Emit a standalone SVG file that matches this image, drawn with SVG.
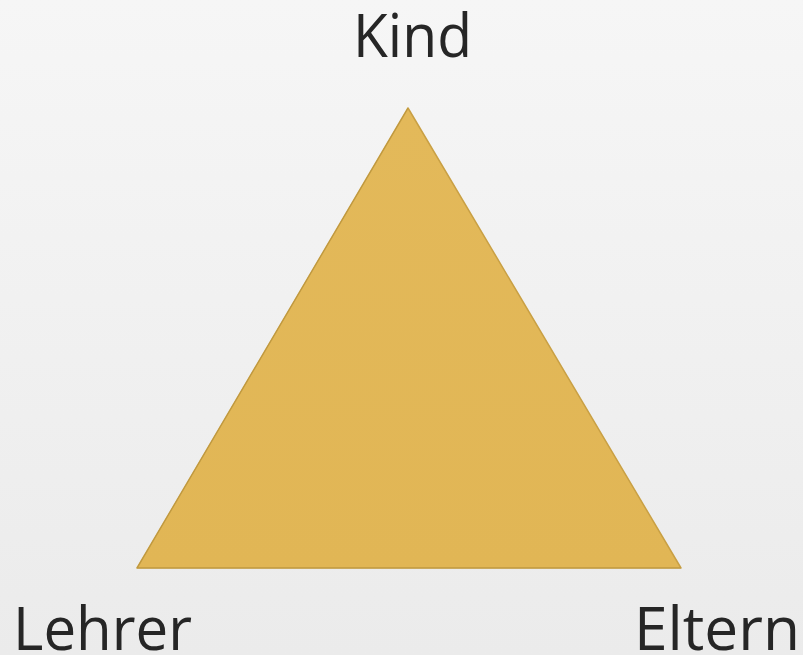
<svg xmlns="http://www.w3.org/2000/svg" width="803" height="655" viewBox="0 0 803 655">
<defs>
<linearGradient id="bg" x1="0" y1="0" x2="0" y2="1">
<stop offset="0" stop-color="#f6f6f6"/>
<stop offset="1" stop-color="#ebebeb"/>
</linearGradient>
<linearGradient id="gold" x1="0" y1="0" x2="0" y2="1">
<stop offset="0" stop-color="#e3b95a"/>
<stop offset="1" stop-color="#e1b655"/>
</linearGradient>
<style>
.lbl{font-family:"Open Sans","Noto Sans","Liberation Sans",sans-serif;font-size:61px;fill:#262626;}
</style>
</defs>
<rect width="803" height="655" fill="url(#bg)"/>
<g id="triangle">
<polygon points="408,108 137,568 681,568" fill="url(#gold)" stroke="#c9a044" stroke-width="1.5" stroke-linejoin="round"/>
<polyline points="408,108 137,568 681,568" fill="none" stroke="#b8923c" stroke-width="1" opacity="0.6"/>
</g>
<g id="kind"><text class="lbl" x="353" y="57" textLength="119" lengthAdjust="spacingAndGlyphs">Kind</text></g>
<g id="lehrer"><text class="lbl" x="13" y="650" textLength="179" lengthAdjust="spacingAndGlyphs">Lehrer</text></g>
<g id="eltern"><text class="lbl" x="634" y="650" textLength="166" lengthAdjust="spacingAndGlyphs">Eltern</text></g>
</svg>
